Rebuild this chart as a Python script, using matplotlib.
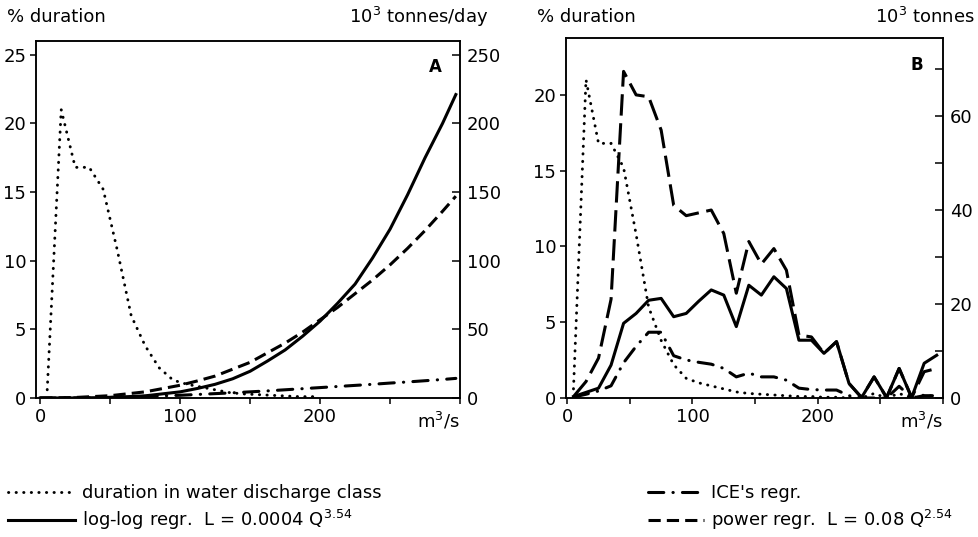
import matplotlib
matplotlib.use('Agg')
import matplotlib.pyplot as plt
import numpy as np

plt.rcParams['font.family'] = ['DejaVu Sans']
plt.rcParams['mathtext.fontset'] = 'dejavusans'
plt.rcParams['font.size'] = 13

# water discharge classes (m3/s), class midpoints
discharge_class = [5, 15, 25, 35, 45, 55, 65, 75, 85, 95,
                   105, 115, 125, 135, 145, 155, 165, 175, 185, 195,
                   205, 215, 225, 235, 245, 255, 265, 275, 285, 295]
# % of time in each class (left axis, both panels)
duration_pct = [0.6, 21.0, 16.8, 16.8, 15.2, 10.8, 6.0, 3.8, 2.2, 1.3,
                1.0, 0.8, 0.6, 0.4, 0.3, 0.25, 0.2, 0.15, 0.1, 0.1,
                0.05, 0.05, 0.0, 0.0, 0.3, 0.0, 0.3, 0.0, 0.2, 0.1]

# panel A: rating curves, 10^3 tonnes/day against Q
q_curve = [0, 25, 50, 75, 100, 112.5, 125, 137.5, 150, 162.5, 175, 187.5, 200,
           212.5, 225, 237.5, 250, 262.5, 275, 287.5, 297]
loglog_a = [0, 0.05, 0.4, 1.6, 4.5, 7, 10, 14, 19.5, 27, 35, 45, 56,
            69, 83, 102, 123, 148, 175, 200, 221]
power_a = [0, 0.4, 1.7, 4.5, 9.3, 12.5, 16, 21, 26, 33, 40, 48, 57,
           66, 76, 86, 97, 109, 122, 136, 147]
ice_a = [0, 0.1, 0.5, 1.2, 2.0, 2.6, 3.2, 3.8, 4.5, 5.2, 6.0, 6.8, 7.6,
         8.4, 9.2, 10.0, 10.9, 11.7, 12.6, 13.5, 14.3]

# panel B: load per discharge class, 10^3 tonnes
loglog_b = [0.3, 1.2, 2.1, 7.0, 15.9, 18.0, 20.8, 21.2, 17.3, 18.0,
            20.6, 23.0, 21.9, 15.2, 24.0, 21.9, 25.8, 23.3, 12.3, 12.3,
            9.5, 12.0, 3.1, 0.1, 4.5, 0.1, 6.3, 0.1, 7.4, 9.1]
power_b = [0.3, 3.5, 8.5, 21.0, 69.5, 64.5, 64.1, 57.0, 41.0, 38.8,
           39.4, 40.0, 35.0, 22.3, 33.3, 28.5, 31.8, 27.2, 13.4, 13.0,
           9.5, 12.0, 3.1, 0.1, 4.5, 0.1, 6.3, 0.1, 5.6, 6.3]
ice_b = [0.2, 0.8, 1.5, 2.6, 7.5, 11.0, 14.0, 14.0, 9.0, 8.1,
         7.6, 7.2, 6.3, 4.5, 5.3, 4.5, 4.5, 3.8, 2.1, 1.8,
         1.7, 1.7, 0.5, 0.0, 0.0, 0.0, 2.5, 0.0, 0.5, 0.5]

dotted = dict(color='black', lw=2.1, ls=(0, (0.1, 2.5)), dash_capstyle='round')
solid = dict(color='black', lw=2.2)
dashdot = dict(color='black', lw=2.2, ls=(0, (5, 3, 0.1, 3)), dash_capstyle='round')

fig = plt.figure(figsize=(9.79, 5.37), dpi=100)


def style_axes(ax, axr):
    for a in (ax, axr):
        for s in a.spines.values():
            s.set_linewidth(1.1)
    ax.tick_params(axis='both', direction='out', length=4, width=1.1, pad=3)
    axr.tick_params(axis='y', direction='in', length=6, width=1.1, pad=5)
    ax.set_xticks([0, 50, 100, 150, 200, 250, 300])
    ax.set_xticklabels(['0', '', '100', '', '200', '', ''])
    ax.text(1.0, -0.035, 'm$^3$/s', transform=ax.transAxes, ha='right', va='top')


# ---- panel A ----
axA = fig.add_axes([0.0368, 0.2588, 0.4331, 0.6648])
axA_r = axA.twinx()
dur_a = [d for q, d in zip(discharge_class, duration_pct) if q <= 195]
q_a = [q for q in discharge_class if q <= 195]
l_dot, = axA.plot(q_a, dur_a, **dotted)
l_sol, = axA_r.plot(q_curve, loglog_a, **solid)
l_dash, = axA_r.plot(q_curve, power_a, color='black', lw=2.2, ls=(0, (4, 2)))
l_dd, = axA_r.plot(q_curve, ice_a, **dashdot)
axA.set_xlim(-3, 300)
axA.set_ylim(0, 26)
axA_r.set_ylim(0, 260)
axA.set_yticks([0, 5, 10, 15, 20, 25])
axA_r.set_yticks([0, 50, 100, 150, 200, 250])
style_axes(axA, axA_r)
axA.text(0.941, 0.927, 'A', transform=axA.transAxes, ha='center', va='center',
         fontweight='bold', fontsize=12)

# ---- panel B ----
axB = fig.add_axes([0.5781, 0.2588, 0.3851, 0.6704])
axB_r = axB.twinx()
axB.plot(discharge_class, duration_pct, **dotted)
axB_r.plot(discharge_class, loglog_b, **solid)
axB_r.plot(discharge_class, power_b, color='black', lw=2.2, ls=(0, (7, 2.5)))
axB_r.plot(discharge_class, ice_b, **dashdot)
axB.set_xlim(-1, 300)
axB.set_ylim(0, 23.75)
axB_r.set_ylim(0, 76.6)
axB.set_yticks([0, 5, 10, 15, 20])
axB_r.set_yticks(range(0, 80, 10))
axB_r.set_yticklabels(['0', '', '20', '', '40', '', '60', ''])
style_axes(axB, axB_r)
axB.text(0.931, 0.925, 'B', transform=axB.transAxes, ha='center', va='center',
         fontweight='bold', fontsize=12)

# axis captions above the panels
fig.text(0.007, 0.968, '% duration', va='center', ha='left')
fig.text(0.4985, 0.968, '10$^3$ tonnes/day', va='center', ha='right')
fig.text(0.5485, 0.968, '% duration', va='center', ha='left')
fig.text(0.996, 0.968, '10$^3$ tonnes', va='center', ha='right')

# legends below the panels
fig.legend([l_dot, l_sol],
           ['duration in water discharge class', r'log-log regr.  L = 0.0004 Q$^{3.54}$'],
           loc='upper left', bbox_to_anchor=(0.008, 0.099), frameon=False,
           handlelength=3.7, handletextpad=0.4, labelspacing=0.35,
           borderpad=0, borderaxespad=0)
fig.legend([l_dd, l_dash],
           ["ICE's regr.", r'power regr.  L = 0.08 Q$^{2.54}$'],
           loc='upper left', bbox_to_anchor=(0.662, 0.099), frameon=False,
           handlelength=3.1, handletextpad=0.4, labelspacing=0.35,
           borderpad=0, borderaxespad=0)

plt.savefig('out.png', dpi=100)
